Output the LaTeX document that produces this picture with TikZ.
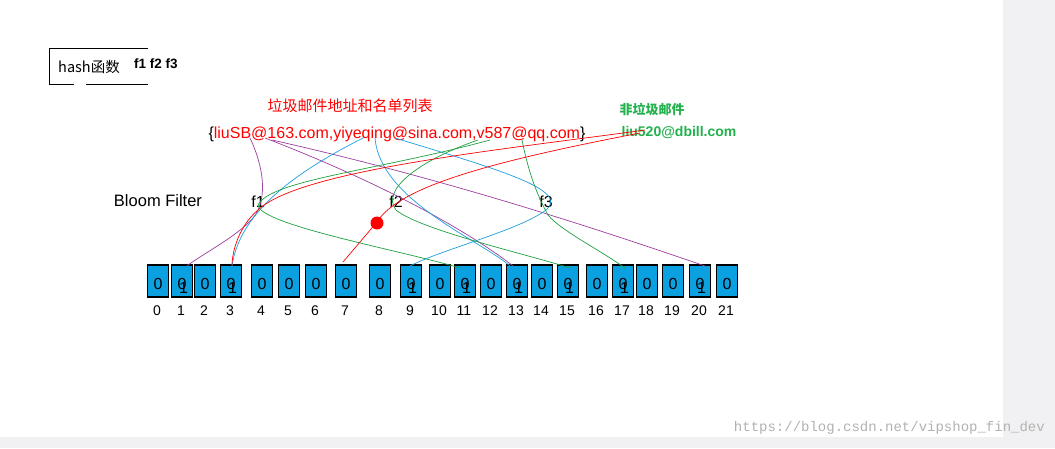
\documentclass[tikz,border=0pt]{standalone}
\usepackage{fontspec}
\setmainfont{Liberation Sans}
\newfontfamily\cjk{Noto Sans CJK SC}
\setmonofont{Liberation Mono}
\definecolor{cellblue}{HTML}{0BA0E0}
\definecolor{pur}{HTML}{9B3FA0}
\definecolor{blu}{HTML}{1E9FE0}
\definecolor{grn}{HTML}{1EA040}
\definecolor{gtxt}{HTML}{22B14C}
\begin{document}
\begin{tikzpicture}[x=1pt,y=-1pt,
  cell/.style={draw=black,line width=1.6pt,fill=cellblue,minimum width=21pt,minimum height=32pt,inner sep=0pt},
  idx/.style={font=\fontsize{14}{14}\selectfont},
  dig/.style={font=\fontsize{16}{16}\selectfont},
  lbl/.style={font=\fontsize{15}{15}\selectfont,inner sep=0pt},
  w/.style={line width=0.7pt}]
\useasboundingbox (0,0) rectangle (1055,448);
\fill[white] (0,0) rectangle (1055,448);
\fill[blue!6!gray!10] (1003,0) rectangle (1055,448);
\fill[blue!6!gray!10] (0,437) rectangle (1055,448);
% hash box
\node[lbl,font=\cjk\fontsize{14.5}{14.5}\selectfont] (hash) at (89,67) {hash函数};
\draw[line width=0.8pt] (74,84) -- (49,84) -- (49,48) -- (148,48);
\draw[line width=0.8pt] (86,84) -- (148,84);
\node[lbl,font=\bfseries\fontsize{13.5}{13.5}\selectfont] (ff) at (156,64) {f1 f2 f3};
\node[lbl,font=\cjk\fontsize{15}{15}\selectfont,text=red] (title) at (350,106) {垃圾邮件地址和名单列表};
\node[lbl,font=\fontsize{16}{16}\selectfont,text=red] (list) at (397,134) {\textcolor{black}{\{}liuSB@163.com,yiyeqing@sina.com,v587@qq.com\textcolor{black}{\}}};
\node[lbl,font=\cjk\bfseries\fontsize{13}{13}\selectfont,text=gtxt] (ok) at (652,109) {非垃圾邮件};
\node[lbl,font=\bfseries\fontsize{14}{14}\selectfont,text=gtxt] (good) at (679,133) {liu520@dbill.com};
\node[lbl,font=\fontsize{16.5}{16.5}\selectfont] (bf) at (158,201) {Bloom Filter};
\node[lbl,font=\fontsize{16}{16}\selectfont] (f1) at (258,202) {f1};
\node[lbl,font=\fontsize{16}{16}\selectfont] (f2) at (396,202) {f2};
\node[lbl,font=\fontsize{16}{16}\selectfont] (f3) at (546,202) {f3};
% cells
\foreach \i/\x/\one in {0/158/0,1/182/1,2/205/0,3/231/1,4/262/0,5/289/0,6/316/0,7/346/0,8/380/0,9/411/1,10/440/0,11/465/1,12/491/0,13/517/1,14/542/0,15/568/1,16/597/0,17/623/1,18/647/0,19/673/0,20/700/1,21/727/0}{
  \node[cell] (c\i) at (\x,281) {};
  \node[dig] at (\x,284) {0};
  \ifnum\one=1 \node[dig] at (\x+1.5,288) {1};\fi
  \node[idx] (n\i) at (\x-1,311) {\i};
}
% purple
\draw[pur,w] (250,138) .. controls (265,170) and (265,195) .. (258,210) .. controls (250,230) and (200,255) .. (187,266);
\draw[pur,w] (265,138) .. controls (400,190) and (480,240) .. (513,266);
\draw[pur,w] (272,140) .. controls (450,180) and (600,230) .. (705,266);
% blue
\draw[blu,w] (363,138) .. controls (300,170) and (240,210) .. (232,266);
\draw[blu,w] (375,138) .. controls (380,200) and (480,240) .. (510,266);
\draw[blu,w] (395,138) .. controls (500,170) and (570,190) .. (546,210) .. controls (520,230) and (440,250) .. (410,266);
% green
\draw[grn,w] (490,140) .. controls (380,170) and (270,180) .. (258,205) .. controls (260,225) and (400,250) .. (460,268);
\draw[grn,w] (478,140) .. controls (420,160) and (380,190) .. (396,210) .. controls (420,230) and (530,255) .. (570,268);
\draw[grn,w] (522,140) .. controls (530,180) and (540,200) .. (548,215) .. controls (560,230) and (600,250) .. (625,268);
% red
\draw[red,w] (645,130) .. controls (500,150) and (300,170) .. (258,210) .. controls (240,225) and (232,250) .. (232,266);
\draw[red,w] (640,133) .. controls (500,160) and (400,185) .. (377,222) -- (343,262);
\node[circle,fill=red,inner sep=0pt,minimum size=13pt] (dot) at (377,223) {};
\node[font=\ttfamily\fontsize{14}{14}\selectfont,text=gray!60,anchor=east,inner sep=0pt] (wm) at (1045,428) {https://blog.csdn.net/vipshop\_fin\_dev};
\end{tikzpicture}
\end{document}
